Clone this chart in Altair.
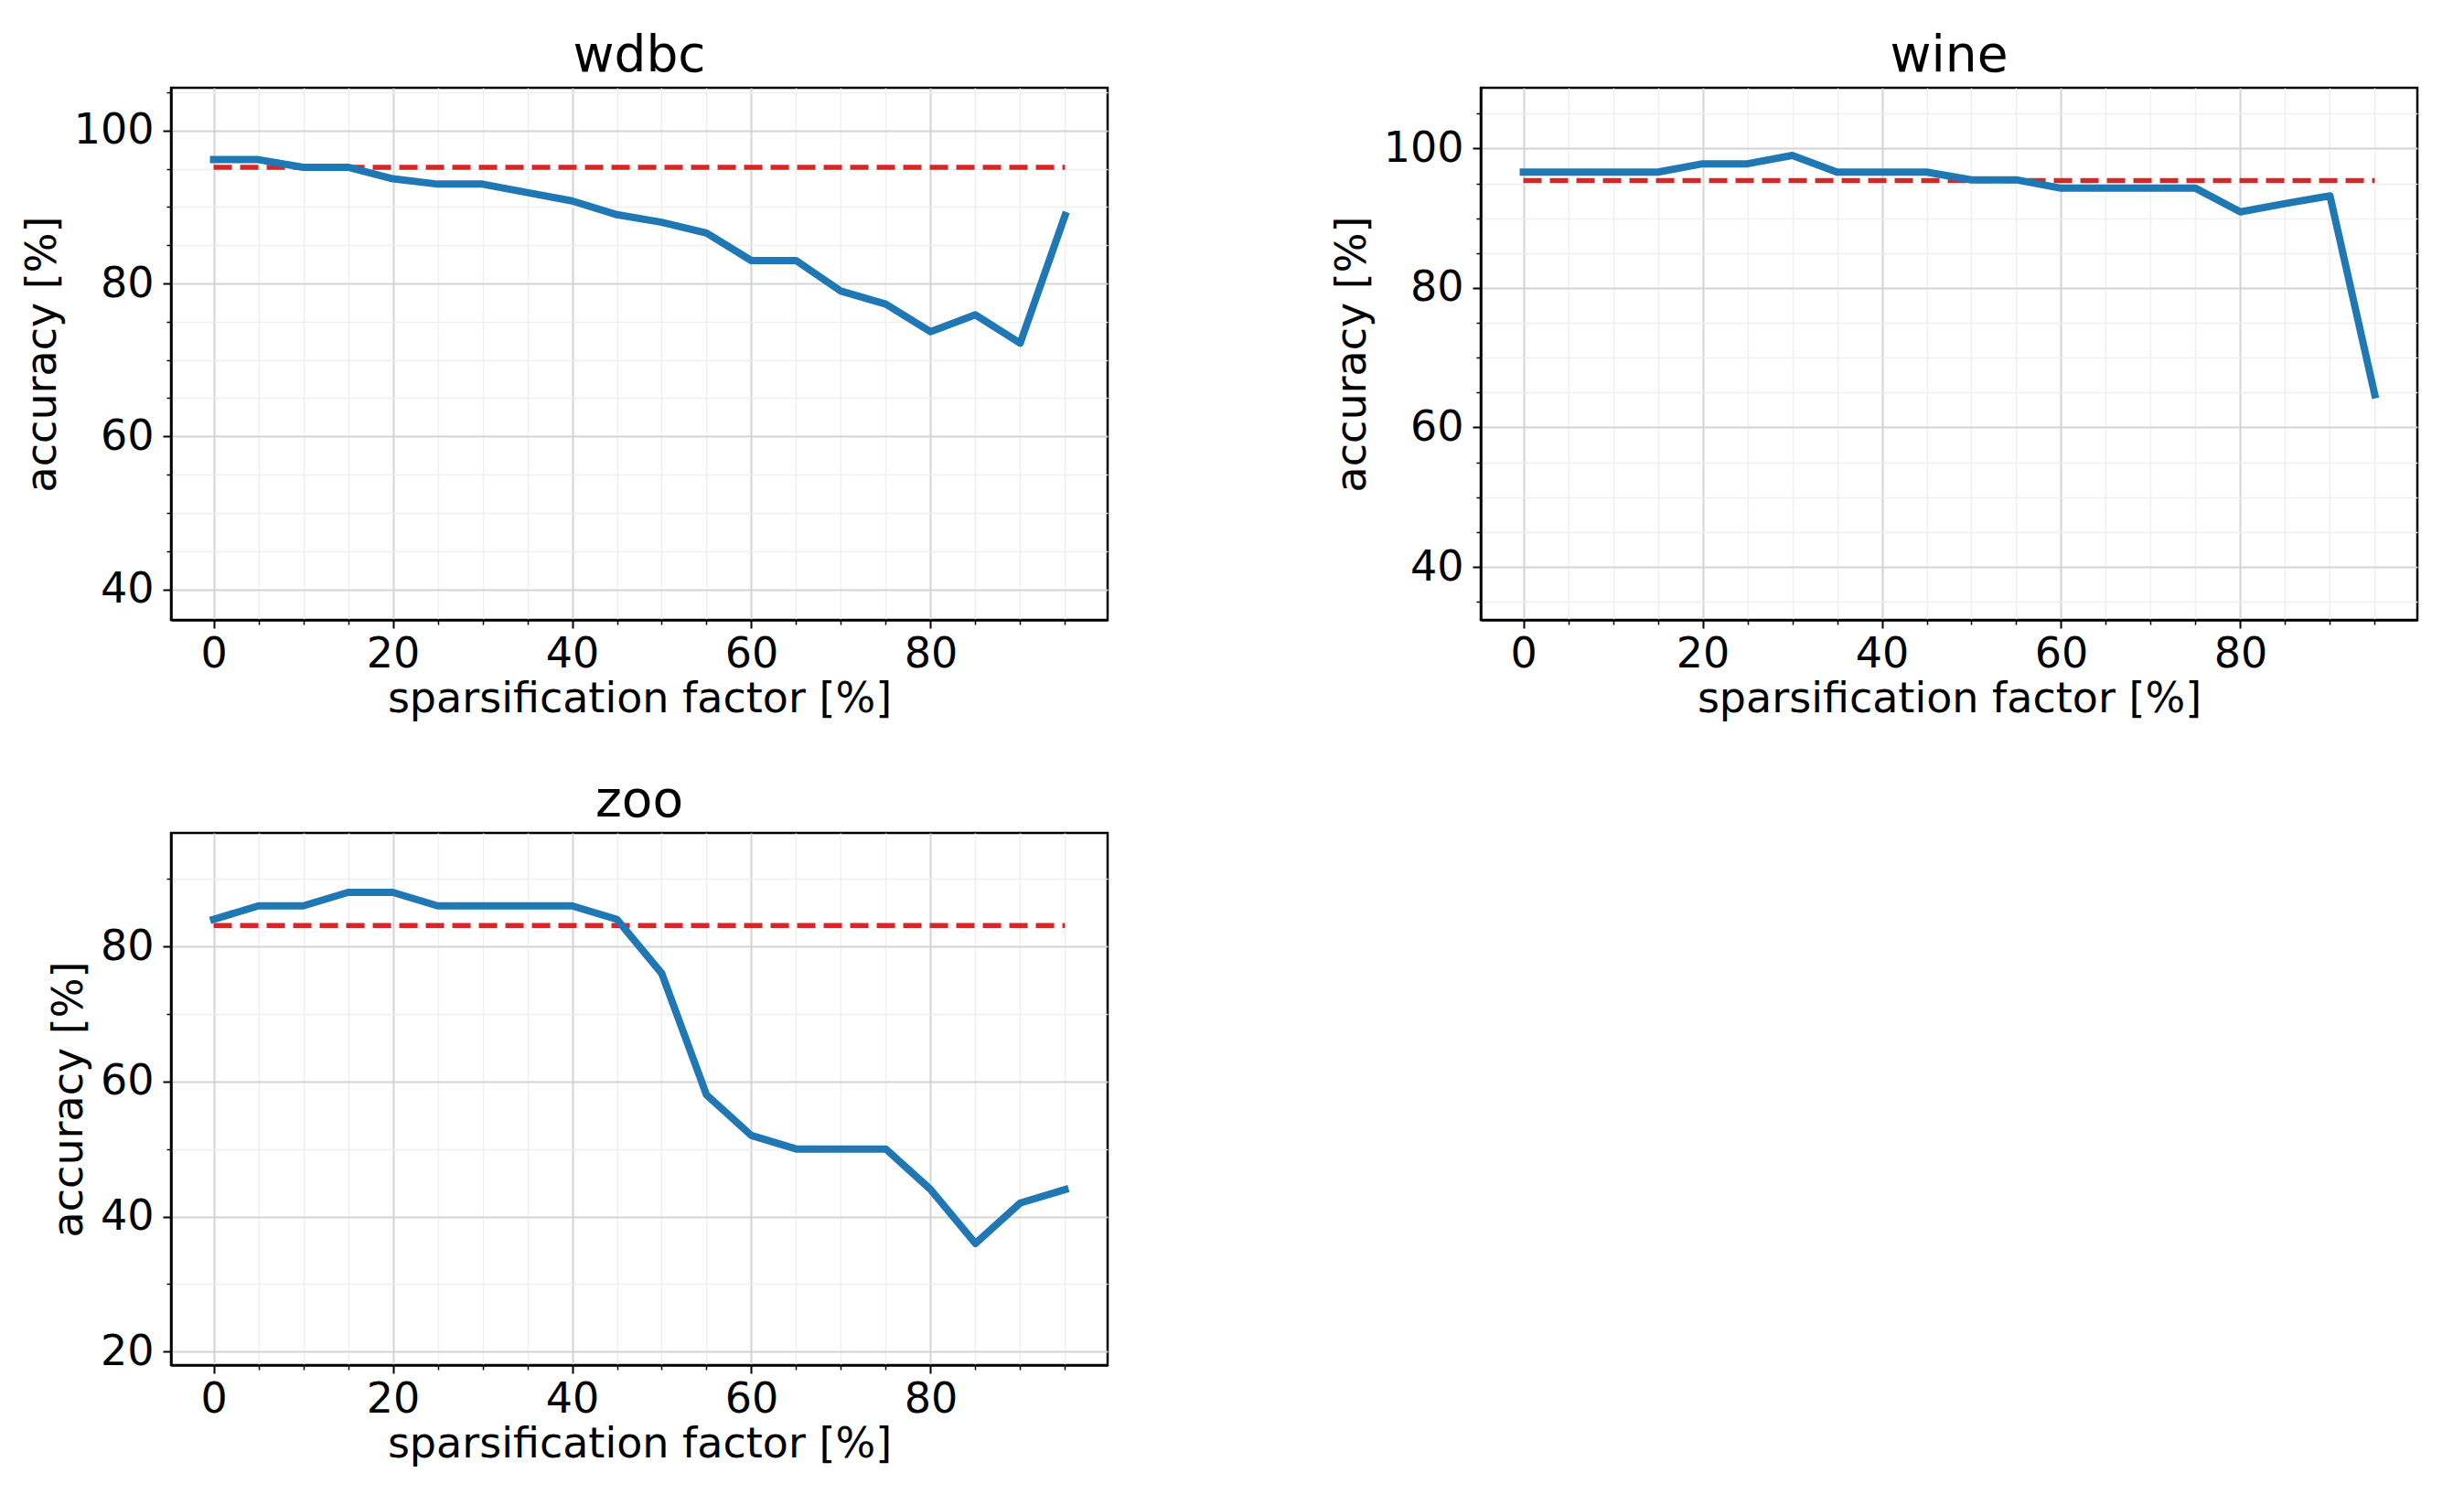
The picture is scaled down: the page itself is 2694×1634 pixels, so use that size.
import altair as alt
import pandas as pd

# ---- data ----
sparsification = [0, 5, 10, 15, 20, 25, 30, 35, 40, 45, 50, 55, 60, 65, 70, 75, 80, 85, 90, 95]

wdbc_acc = [96.2, 96.2, 95.2, 95.2, 93.7, 93.0, 93.0, 91.9, 90.8, 89.0,
            88.0, 86.6, 83.0, 83.0, 79.0, 77.3, 73.7, 75.9, 72.2, 88.9]
wdbc_base = 95.2

wine_acc = [96.6, 96.6, 96.6, 96.6, 97.8, 97.8, 99.0, 96.6, 96.6, 96.6,
            95.5, 95.5, 94.3, 94.3, 94.3, 94.3, 90.9, 92.1, 93.2, 64.7]
wine_base = 95.4

zoo_acc = [84, 86, 86, 88, 88, 86, 86, 86, 86, 84,
           76, 58, 52, 50, 50, 50, 44, 36, 42, 44]
zoo_base = 83.1

panels = [
    ("wdbc", wdbc_acc, wdbc_base, [36.0, 105.6]),
    ("wine", wine_acc, wine_base, [32.4, 108.7]),
    ("zoo", zoo_acc, zoo_base, [18.0, 96.8]),
]

x_ticks = list(range(0, 100, 5))

FONT = "DejaVu Sans"
MAJOR_GRID = "#d4d4d4"
MINOR_GRID = "#efefef"


def cond(major, minor):
    return {"condition": {"test": "datum.value % 20 === 0", "value": major}, "value": minor}


def make_panel(name, acc, base, ydom):
    df = pd.DataFrame({"x": sparsification, "acc": acc, "base": [base] * len(sparsification)})
    y_ticks = [v for v in range(0, 120, 5) if ydom[0] <= v <= ydom[1]]

    x_enc = alt.X(
        "x:Q",
        scale=alt.Scale(domain=[-4.75, 99.75], nice=False, zero=False),
        axis=alt.Axis(
            values=x_ticks,
            title="sparsification factor [%]",
            labelExpr="datum.value % 20 === 0 ? datum.label : ''",
            tickSize=cond(9, 5),
            gridColor=cond(MAJOR_GRID, MINOR_GRID),
            gridWidth=cond(2, 1.5),
            tickWidth=cond(2, 1.5),
            labelPadding=6,
            titlePadding=4,
        ),
    )
    y_axis = alt.Axis(
        values=y_ticks,
        title="accuracy [%]",
        labelExpr="datum.value % 20 === 0 ? datum.label : ''",
        tickSize=cond(9, 5),
        gridColor=cond(MAJOR_GRID, MINOR_GRID),
        gridWidth=cond(2, 1.5),
        tickWidth=cond(2, 1.5),
        labelPadding=10,
        titlePadding=10,
    )
    y_scale = alt.Scale(domain=ydom, nice=False, zero=False)

    base_chart = alt.Chart(df)
    line = base_chart.mark_line(color="#1f77b4", strokeWidth=8, strokeCap="square", strokeJoin="round").encode(
        x=x_enc,
        y=alt.Y("acc:Q", scale=y_scale, axis=y_axis),
    )
    dashed = base_chart.mark_line(color="#d62728", strokeWidth=5.5, strokeDash=[20, 9]).encode(
        x="x:Q",
        y=alt.Y("base:Q", scale=y_scale),
    )
    return alt.layer(dashed, line).properties(
        width=1024,
        height=582,
        title=alt.TitleParams(name, fontSize=55, font=FONT, fontWeight="normal", offset=6, color="black"),
    )


p_wdbc, p_wine, p_zoo = [make_panel(*p) for p in panels]

chart = alt.concat(
    p_wdbc, p_wine, p_zoo, columns=2, spacing={"row": 233, "column": 408}, bounds="flush"
).properties(
    padding={"left": 13, "top": 24, "right": 10, "bottom": 10}
).configure_view(
    stroke="black", strokeWidth=2.5
).configure_axis(
    labelFont=FONT, titleFont=FONT, labelFontSize=46, titleFontSize=46,
    labelColor="black", titleColor="black", titleFontWeight="normal",
    domainColor="black", domainWidth=2.5, tickColor="black",
)

chart.save("out.html", embed_options={"renderer": "svg", "actions": False})
